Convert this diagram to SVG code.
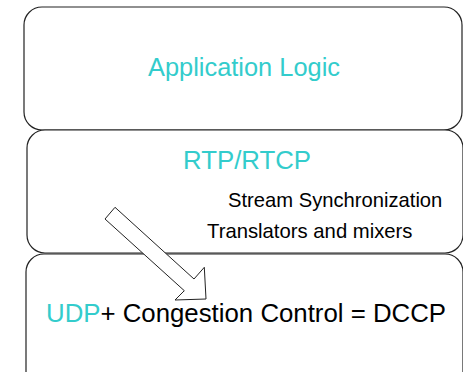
<svg xmlns="http://www.w3.org/2000/svg" width="463" height="372" viewBox="0 0 463 372">
<style>
.box{fill:#fff;stroke:#222;stroke-width:1.2}
text{font-family:"Liberation Sans",Arial,sans-serif}
.teal{fill:#33CCCC}
.blk{fill:#000}
</style>
<rect width="463" height="372" fill="#fff"/>
<g id="app">
<rect class="box" x="24" y="7" width="438" height="123" rx="18" ry="18"/>
<text class="teal" x="244" y="76" font-size="25.4" text-anchor="middle">Application Logic</text>
</g>
<g id="rtp">
<rect class="box" x="27" y="130" width="436" height="123" rx="18" ry="18"/>
<text class="teal" x="183" y="169" font-size="25.8">RTP/RTCP</text>
<text class="blk" x="228" y="207" font-size="20.2">Stream Synchronization</text>
<text class="blk" x="207" y="238" font-size="20.3">Translators and mixers</text>
</g>
<g id="dccp">
<rect class="box" x="26" y="254" width="437" height="140" rx="18" ry="18"/>
<text class="blk" x="46" y="322" font-size="25.8"><tspan class="teal">UDP</tspan>+ Congestion Control = DCCP</text>
</g>
<g id="connectors">
<polygon points="115,207.3 194,279 204.3,267.3 206,299 175,300 184.3,290.7 105,219" fill="#fff" stroke="#222" stroke-width="1"/>
</g>
</svg>
